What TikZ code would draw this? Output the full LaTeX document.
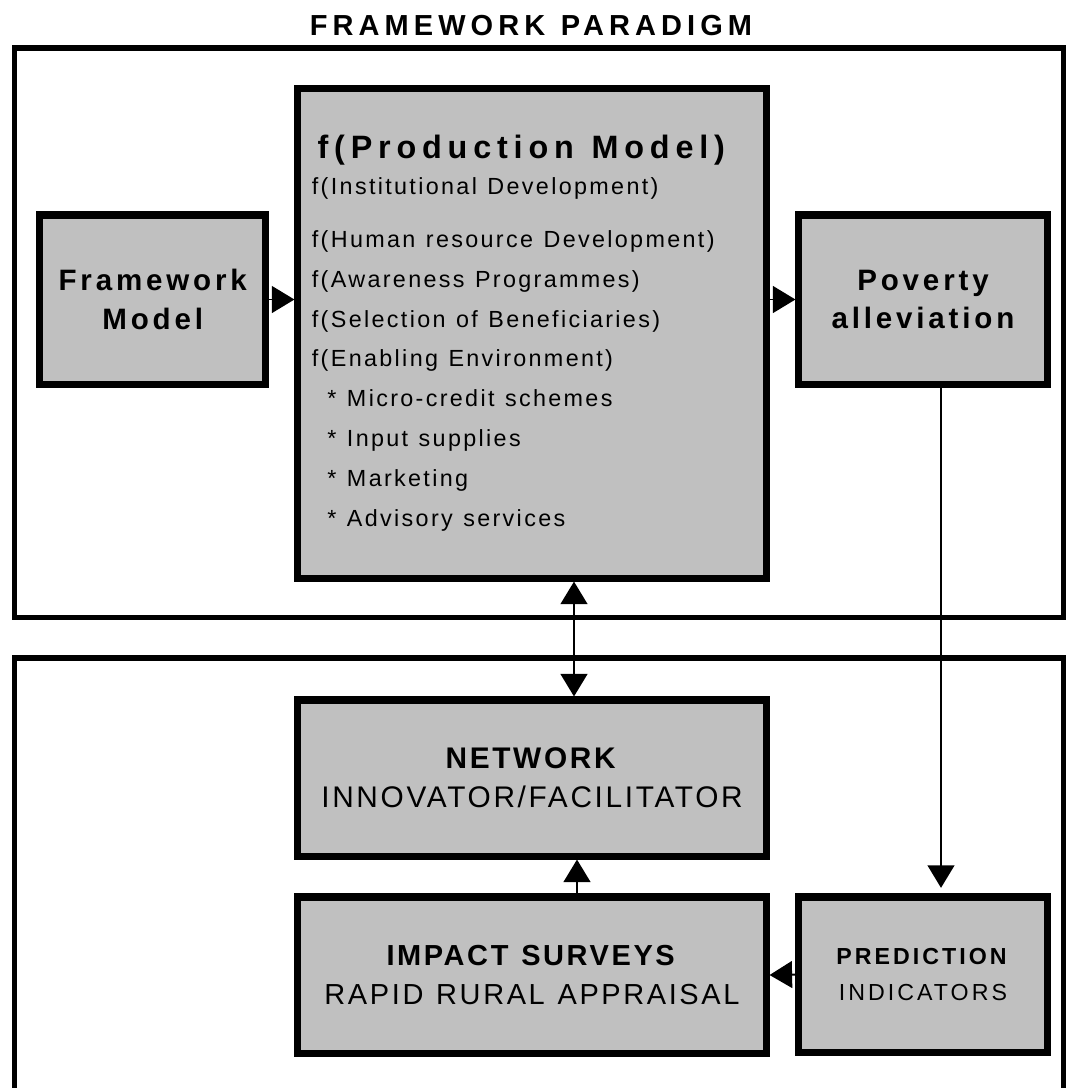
\documentclass[tikz,border=0pt]{standalone}
\usepackage{fontspec}
\setmainfont{Liberation Sans}
\newfontfamily\regfont{Liberation Sans}[LetterSpace=10]
\newfontfamily\lowfont{Liberation Sans}[LetterSpace=9,WordSpace=1.2]
\newfontfamily\midfont{Liberation Sans}[LetterSpace=13]
\newfontfamily\titlefont{Liberation Sans}[LetterSpace=17.5,WordSpace=1.2]
\newfontfamily\headfont{Liberation Sans}[LetterSpace=18]
\usepackage{tikz}
\usetikzlibrary{positioning}
\usetikzlibrary{calc,arrows.meta}
\definecolor{boxgray}{RGB}{192,192,192}
\setlength{\parindent}{0pt}

\begin{document}
\begin{tikzpicture}[x=0.025cm,y=-0.025cm,
  box/.style={shape=rectangle,draw,line width=5pt,fill=boxgray,inner sep=0pt,align=center},
  outer/.style={draw,line width=3.6pt},
  link/.style={-{Triangle[length=16pt,width=19pt]},line width=1.4pt},
  twolink/.style={{Triangle[length=16pt,width=19pt]}-{Triangle[length=16pt,width=19pt]},line width=1.4pt}]
\useasboundingbox (0,0) rectangle (1066,1088);
% the two frames
\draw [outer] (14.5,48) rectangle (1063.5,617.5);
\draw [outer] (14.5,1088) |- (1063.5,658) -- (1063.5,1088);
\path
(531,26) node [font=\titlefont\bfseries\fontsize{20.6}{24}\selectfont](title) {FRAMEWORK PARADIGM}
(152.75,299.5) node [box,minimum width=5.66cm,minimum height=4.225cm,font=\midfont\bfseries\fontsize{21}{27.7}\selectfont](fwork) {Framework\\Model}
(532,333.5) node [box,minimum width=11.7cm,minimum height=12.225cm,text width=11cm,align=left,font=\regfont\fontsize{16.6}{28.4}\selectfont](prod) {\spaceskip=0.45em\relax
{\hspace*{4pt}\headfont\bfseries\fontsize{23}{28}\selectfont\spaceskip=0.55em\relax f(Production Model)}\\[-3pt]
f(Institutional Development)\\[9pt]
f(Human resource Development)\\
f(Awareness Programmes)\\
f(Selection of Beneficiaries)\\
f(Enabling Environment)\\
\hspace*{11pt}* Micro-credit schemes\\
\hspace*{11pt}* Input supplies\\
\hspace*{11pt}* Marketing\\
\hspace*{11pt}* Advisory services}
(923,299.5) node [box,minimum width=6.2cm,minimum height=4.225cm,font=\midfont\bfseries\fontsize{21}{27.7}\selectfont](pov) {Poverty\\alleviation}
(532,778) node [box,minimum width=11.7cm,minimum height=3.9cm,font=\lowfont\fontsize{21.2}{27.7}\selectfont](net) {\textbf{NETWORK}\\INNOVATOR/FACILITATOR}
(532,975) node [box,minimum width=11.7cm,minimum height=3.9cm,font=\lowfont\fontsize{20.6}{27.7}\selectfont](imp) {\textbf{IMPACT SURVEYS}\\RAPID RURAL APPRAISAL}
(923,974.5) node [box,minimum width=6.2cm,minimum height=3.875cm,font=\midfont\fontsize{16.5}{25.6}\selectfont](pred) {\textbf{PREDICTION}\\INDICATORS};
\draw [link] (fwork.east) -- (fwork.east -| prod.west);
\draw [link] (prod.east |- pov.west) -- (pov.west);
\draw [twolink] ($(prod.south)+(42,0)$) -- ($(net.north)+(42,0)$);
\draw [link] ($(imp.north)+(45,0)$) -- ($(net.south)+(45,0)$);
\draw [link,shorten >=4pt] ($(pov.south)+(18,0)$) -- ($(pred.north)+(18,0)$);
\draw [link] (pred.west) -- (imp.east);

\end{tikzpicture}
\end{document}
